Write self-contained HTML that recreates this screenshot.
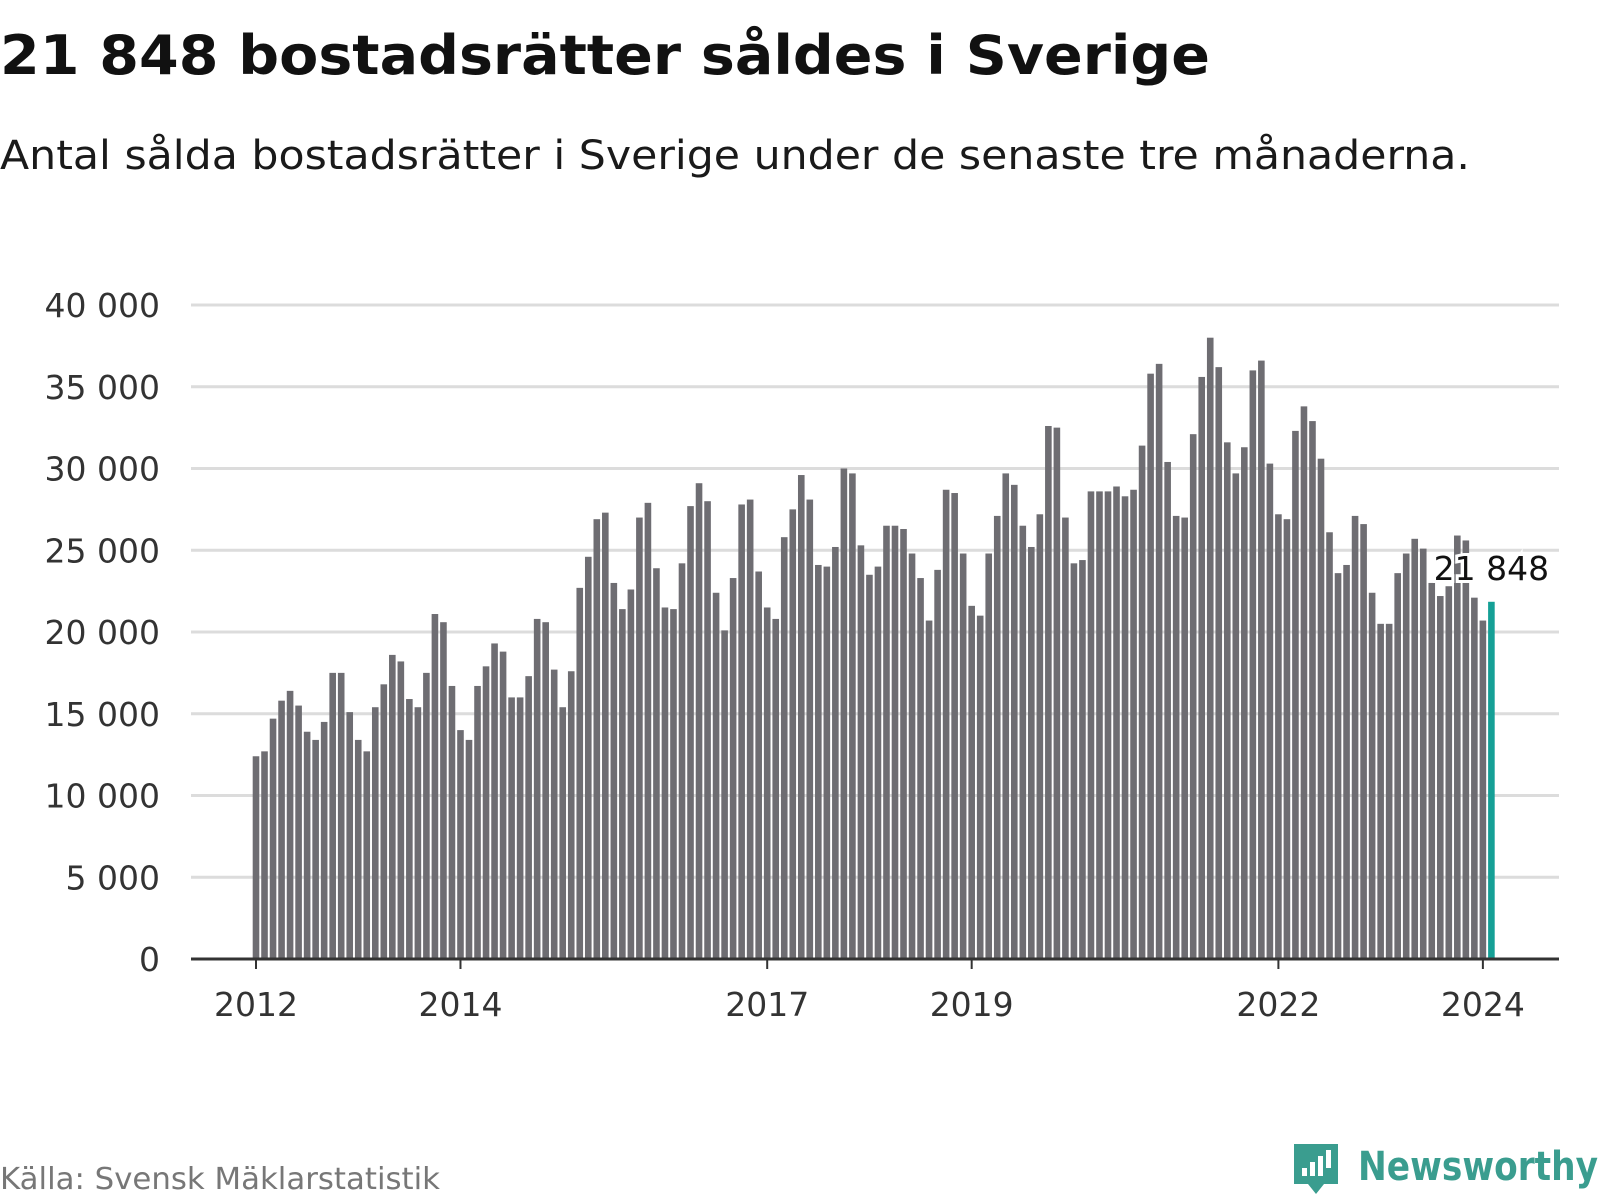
<!DOCTYPE html>
<html><head><meta charset="utf-8"><style>
body{margin:0;width:1600px;height:1200px;background:#fff;overflow:hidden;font-family:"DejaVu Sans","Liberation Sans",sans-serif}
</style></head><body>
<svg id="c" width="1600" height="1200" style="position:absolute;left:0;top:0">
<text x="0" y="74" font-size="54" font-weight="bold" fill="#111" textLength="1210" lengthAdjust="spacingAndGlyphs">21 848 bostadsrätter såldes i Sverige</text>
<text x="0" y="169" font-size="40" fill="#1a1a1a" textLength="1470" lengthAdjust="spacingAndGlyphs">Antal sålda bostadsrätter i Sverige under de senaste tre månaderna.</text>
<text x="0" y="1189" font-size="30" fill="#777" textLength="440" lengthAdjust="spacingAndGlyphs">Källa: Svensk Mäklarstatistik</text>
<g>
<path d="M1294 1144h44v40h-14l-8 10-8-10h-14z" fill="#3a9d8f"/>
<rect x="1302" y="1168" width="5" height="8" fill="#fff"/><rect x="1310" y="1162" width="5" height="14" fill="#fff"/><rect x="1318" y="1156" width="5" height="20" fill="#fff"/><rect x="1326" y="1150" width="5" height="18" fill="#fff"/>
<text x="1598" y="1180" text-anchor="end" font-size="40" font-weight="bold" fill="#3a9d8f" textLength="240" lengthAdjust="spacingAndGlyphs">Newsworthy</text>
</g>
<g id="grid"></g><g id="bars"></g><g id="axes"></g>
</svg>
<script>
const yTicks=[0,5000,10000,15000,20000,25000,30000,35000,40000];
const yTickLabels=["0","5 000","10 000","15 000","20 000","25 000","30 000","35 000","40 000"];
const xTickYears=[2012,2014,2017,2019,2022,2024];
const startYear=2012;
const values=[
12400,12700,14700,15800,16400,15500,13900,13400,14500,17500,17500,15100,
13400,12700,15400,16800,18600,18200,15900,15400,17500,21100,20600,16700,
14000,13400,16700,17900,19300,18800,16000,16000,17300,20800,20600,17700,
15400,17600,22700,24600,26900,27300,23000,21400,22600,27000,27900,23900,
21500,21400,24200,27700,29100,28000,22400,20100,23300,27800,28100,23700,
21500,20800,25800,27500,29600,28100,24100,24000,25200,30000,29700,25300,
23500,24000,26500,26500,26300,24800,23300,20700,23800,28700,28500,24800,
21600,21000,24800,27100,29700,29000,26500,25200,27200,32600,32500,27000,
24200,24400,28600,28600,28600,28900,28300,28700,31400,35800,36400,30400,
27100,27000,32100,35600,38000,36200,31600,29700,31300,36000,36600,30300,
27200,26900,32300,33800,32900,30600,26100,23600,24100,27100,26600,22400,
20500,20500,23600,24800,25700,25100,23000,22200,22800,25900,25600,22100,
20700,21848];
const lastLabel="21 848";
const NS="http://www.w3.org/2000/svg";
const x0=256,perMonth=8.52,left=191,right=1559,zeroY=959,pxPer=654/40000;
const xs=i=>x0+i*perMonth, ys=v=>zeroY-v*pxPer;
function mk(t,a,p){const e=document.createElementNS(NS,t);for(const k in a)e.setAttribute(k,a[k]);p.appendChild(e);return e;}
const grid=document.getElementById('grid'),bars=document.getElementById('bars'),axes=document.getElementById('axes');
yTicks.forEach((v,i)=>{
 if(v>0){const l=mk('line',{x1:left,x2:right,y1:ys(v),y2:ys(v),stroke:'#dcdcdc','stroke-width':3},grid);
 
 }
 const t=mk('text',{x:160,y:ys(v)+12,'text-anchor':'end','font-size':33,fill:'#333'},axes);t.textContent=yTickLabels[i];
 
 
});
values.forEach((v,i)=>{
 const last=i===values.length-1;
 const r=mk('rect',{x:xs(i)-3.3,y:ys(v),width:6.6,height:zeroY-ys(v),fill:last?'#15a096':'#6e6d72'},bars);
 
 
});
const ax=mk('line',{x1:left,x2:right,y1:zeroY,y2:zeroY,stroke:'#333','stroke-width':3},axes);


xTickYears.forEach(y=>{
 const x=xs((y-startYear)*12);
 mk('line',{x1:x,x2:x,y1:zeroY,y2:zeroY+10,stroke:'#333','stroke-width':2},axes);
 const t=mk('text',{x:x,y:1016,'text-anchor':'middle','font-size':33,fill:'#333'},axes);t.textContent=y;
 
 
});
const li=values.length-1;
const lab=mk('text',{x:xs(li),y:ys(values[li])-22,'text-anchor':'middle','font-size':33,fill:'#111',stroke:'#fff','stroke-width':6,'paint-order':'stroke'},axes);
lab.textContent=lastLabel;


</script>
</body></html>
